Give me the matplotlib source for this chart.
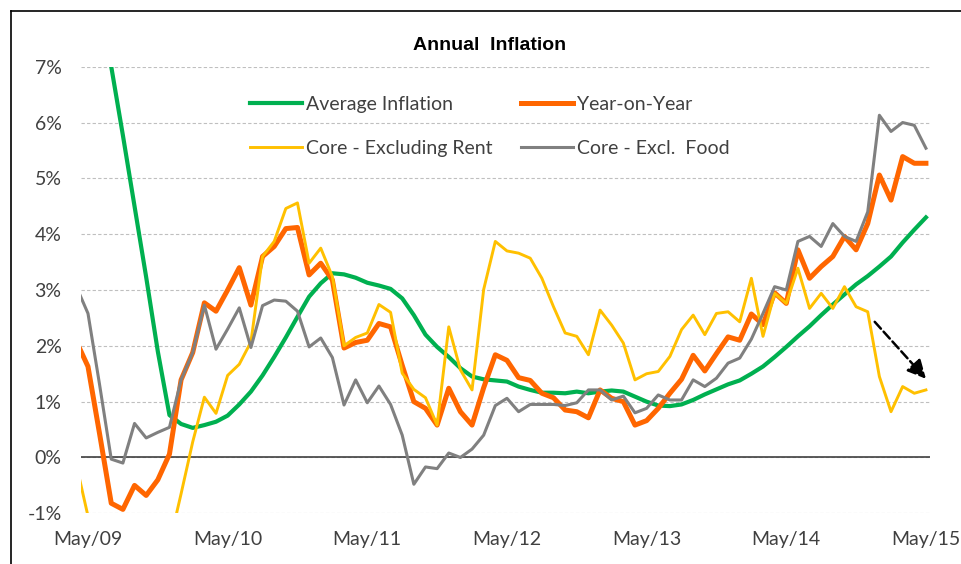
import matplotlib
matplotlib.use("Agg")
import matplotlib.pyplot as plt
from matplotlib.lines import Line2D
from matplotlib.ticker import FuncFormatter

plt.rcParams['font.family'] = ['Lato', 'DejaVu Sans']

# monthly data, Apr/09 .. May/15 (first month sits just left of the axis)
months = list(range(-1, 73))
tick_pos = [0, 12, 24, 36, 48, 60, 72]
tick_labels = ['May/09', 'May/10', 'May/11', 'May/12', 'May/13', 'May/14', 'May/15']

average_inflation = [
    10.6, 9.5, 8.2, 7.0, 5.77, 4.5, 3.23, 1.9, 0.76, 0.6, 0.53, 0.58, 0.64,
    0.75, 0.95, 1.18, 1.47, 1.8, 2.15, 2.52, 2.88, 3.12, 3.3, 3.28, 3.22,
    3.13, 3.08, 3.02, 2.85, 2.55, 2.2, 1.98, 1.8, 1.6, 1.45, 1.4, 1.38,
    1.36, 1.27, 1.21, 1.16, 1.16, 1.15, 1.18, 1.15, 1.18, 1.2, 1.18, 1.09,
    1.0, 0.93, 0.92, 0.95, 1.03, 1.13, 1.22, 1.31, 1.38, 1.5, 1.63, 1.8,
    1.98, 2.17, 2.35, 2.55, 2.74, 2.92, 3.1, 3.25, 3.42, 3.6, 3.85, 4.08, 4.3]

year_on_year = [
    2.08, 1.63, 0.42, -0.82, -0.93, -0.5, -0.68, -0.4, 0.06, 1.39, 1.88, 2.77, 2.62,
    3.0, 3.4, 2.73, 3.6, 3.78, 4.1, 4.12, 3.27, 3.48, 3.18, 1.96, 2.06,
    2.1, 2.4, 2.34, 1.65, 1.0, 0.88, 0.58, 1.24, 0.82, 0.58, 1.25, 1.84,
    1.74, 1.43, 1.38, 1.15, 1.07, 0.85, 0.82, 0.71, 1.21, 1.06, 1.0, 0.58,
    0.66, 0.88, 1.15, 1.4, 1.83, 1.55, 1.86, 2.16, 2.1, 2.57, 2.38, 2.95,
    2.76, 3.72, 3.21, 3.42, 3.6, 3.96, 3.72, 4.19, 5.06, 4.61, 5.39, 5.27, 5.27]

core_ex_rent = [
    -0.13, -1.05, -1.8, -2.4, -2.8, -2.9, -2.8, -2.4, -1.55, -0.65, 0.28, 1.08, 0.79,
    1.47, 1.67, 2.07, 3.6, 3.87, 4.46, 4.56, 3.48, 3.75, 3.24, 2.0, 2.15,
    2.23, 2.74, 2.6, 1.51, 1.22, 1.07, 0.58, 2.34, 1.57, 1.21, 3.01, 3.87,
    3.7, 3.66, 3.57, 3.21, 2.7, 2.23, 2.17, 1.84, 2.64, 2.37, 2.05, 1.39,
    1.5, 1.54, 1.81, 2.29, 2.55, 2.2, 2.58, 2.61, 2.43, 3.21, 2.17, 2.94,
    2.76, 3.39, 2.67, 2.94, 2.67, 3.06, 2.7, 2.61, 1.45, 0.82, 1.27, 1.15, 1.21]

core_ex_food = [
    3.06, 2.58, 1.3, -0.03, -0.1, 0.61, 0.35, 0.45, 0.54, 1.39, 1.88, 2.73, 1.94,
    2.3, 2.68, 1.97, 2.72, 2.82, 2.8, 2.62, 1.98, 2.14, 1.79, 0.94, 1.39,
    0.98, 1.28, 0.95, 0.4, -0.48, -0.17, -0.2, 0.08, 0.0, 0.15, 0.4, 0.93,
    1.06, 0.82, 0.95, 0.95, 0.95, 0.93, 0.98, 1.21, 1.21, 1.03, 1.1, 0.8,
    0.88, 1.12, 1.03, 1.03, 1.39, 1.27, 1.42, 1.69, 1.78, 2.12, 2.58, 3.06,
    3.0, 3.87, 3.96, 3.78, 4.19, 3.96, 3.87, 4.4, 6.13, 5.84, 6.0, 5.95, 5.54]

fig = plt.figure(figsize=(9.61, 5.64), dpi=100)
ax = fig.add_axes([81 / 961, 1 - 513.3 / 564, 849 / 961, 446.6 / 564])

g, = ax.plot(months, average_inflation, color='#00B050', lw=3.0, label='Average Inflation')
o, = ax.plot(months, year_on_year, color='#FF6600', lw=3.6, label='Year-on-Year')
y, = ax.plot(months, core_ex_rent, color='#FFC000', lw=2.1, label='Core - Excluding Rent')
k, = ax.plot(months, core_ex_food, color='#808080', lw=2.2, label='Core - Excl.  Food')

ax.set_xlim(-0.6, 72.35)
ax.set_ylim(-1, 7)
ax.set_yticks(range(-1, 8))
ax.yaxis.set_major_formatter(FuncFormatter(lambda v, _: f"{v:.0f}%"))
ax.set_xticks(tick_pos)
ax.set_xticklabels(tick_labels)
ax.tick_params(axis='both', length=0, labelsize=14, colors='#404040')
ax.tick_params(axis='y', pad=14)
ax.tick_params(axis='x', pad=13)
for s in ax.spines.values():
    s.set_visible(False)
ax.grid(axis='y', color='#BFBFBF', ls=(0, (3, 2)), lw=0.8)
ax.set_axisbelow(True)
ax.axhline(0, color='#404040', lw=1.2, zorder=1.5)

# dashed arrow pointing at the drop in core inflation
ax.annotate('', xy=(72.0, 1.41), xytext=(67.6, 2.43),
            arrowprops=dict(arrowstyle='-|>', ls='--', color='black', lw=1.8,
                            mutation_scale=28, shrinkA=0, shrinkB=0))

ax.legend(handles=[g, y, o, k], ncol=2, loc='upper left',
          bbox_to_anchor=(250 / 961, 1 - 96 / 564), bbox_transform=fig.transFigure,
          frameon=False, fontsize=14, handlelength=2.65, handletextpad=0.25,
          columnspacing=1.45, labelspacing=1.38, borderpad=0, borderaxespad=0,
          labelcolor='#404040')

fig.text(490 / 961, 1 - 45 / 564, 'Annual  Inflation', ha='center', va='center',
         fontweight='bold', fontsize=14, family=['Liberation Sans', 'DejaVu Sans'])

# chart area frame (only left and top edges visible)
fig.add_artist(Line2D([10.5 / 961, 10.5 / 961], [0, 1 - 11 / 564], color='black', lw=1.2,
                      transform=fig.transFigure))
fig.add_artist(Line2D([10.5 / 961, 1], [1 - 11 / 564, 1 - 11 / 564], color='black', lw=1.2,
                      transform=fig.transFigure))

fig.savefig('out.png', dpi=100)
